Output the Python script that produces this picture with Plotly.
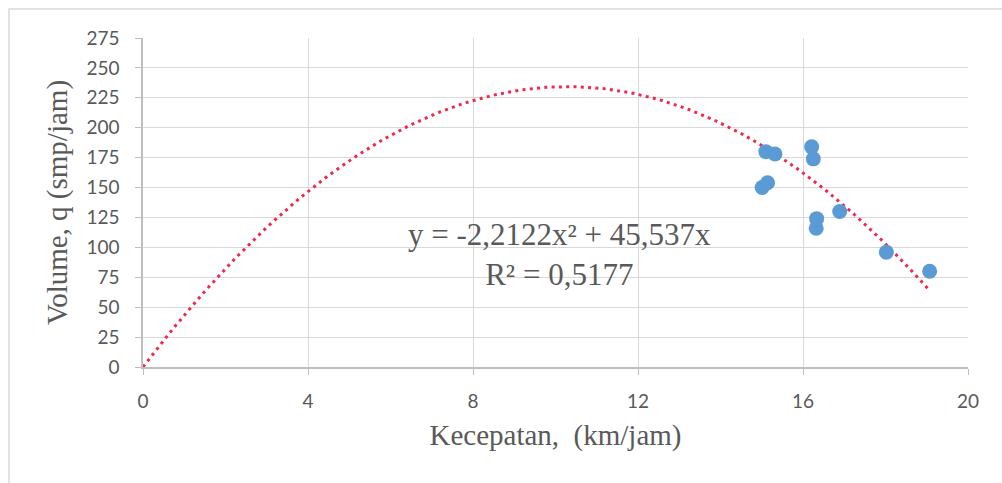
import numpy as np
import plotly.graph_objects as go

# Observed data (speed km/jam, volume smp/jam)
speed = [15.10, 15.32, 16.21, 16.25, 15.14, 15.01, 16.33, 16.32, 16.89, 18.02, 19.07]
volume = [180, 178, 184, 174, 154, 150, 124, 116, 130, 96, 80]

# Polynomial trendline coefficients shown on chart
coef_a = -2.2122
coef_b = 45.537
r2_text = "R² = 0,5177"
eq_text = "y = -2,2122x² + 45,537x"

x_ticks = [0, 4, 8, 12, 16, 20]
y_ticks = list(range(0, 276, 25))

xt = np.linspace(0, max(speed), 200)
yt = coef_a * xt**2 + coef_b * xt

fig = go.Figure()
fig.add_trace(go.Scatter(x=xt, y=yt, mode="lines",
                         line=dict(color="#F0284A", width=3, dash="3px,4.3px"),
                         hoverinfo="skip", showlegend=False))
fig.add_trace(go.Scatter(x=speed, y=volume, mode="markers",
                         marker=dict(color="#5B9BD5", size=15),
                         showlegend=False))

fig.add_annotation(x=10.1, y=94, xref="x", yref="y",
                   text=eq_text + "<br>" + r2_text, showarrow=False,
                   font=dict(family="Liberation Serif", size=31, color="#595959"),
                   align="center")

fig.add_shape(type="rect", xref="paper", yref="paper",
              x0=-134/825, x1=1.2, y0=-1.0, y1=1 + 29/329,
              line=dict(color="#D9D9D9", width=1.5), fillcolor="rgba(0,0,0,0)",
              layer="below")

fig.update_layout(
    width=1002, height=483,
    margin=dict(l=143, r=34, t=38, b=116),
    paper_bgcolor="white", plot_bgcolor="white",
    font=dict(family="Lato", color="#595959", size=19),
)
fig.update_xaxes(range=[0, 20], tickvals=x_ticks, ticks="outside", ticklen=6,
                 tickcolor="#BFBFBF", showgrid=True, gridcolor="#D9D9D9", gridwidth=1.3,
                 zeroline=False, showline=True, linecolor="#BFBFBF", linewidth=1.5,
                 ticklabelstandoff=10,
                 title=dict(text="Kecepatan,  (km/jam)", standoff=14,
                            font=dict(family="Liberation Serif", size=29, color="#595959")))
fig.update_yaxes(range=[0, 275], tickvals=y_ticks, ticks="outside", ticklen=6,
                 tickcolor="#BFBFBF", showgrid=True, gridcolor="#D9D9D9", gridwidth=1.3,
                 zeroline=False, showline=True, linecolor="#BFBFBF", linewidth=1.5,
                 ticklabelstandoff=12,
                 title=dict(text="Volume, q (smp/jam)", standoff=10,
                            font=dict(family="Liberation Serif", size=29, color="#595959")))

fig.write_html("out.html")
